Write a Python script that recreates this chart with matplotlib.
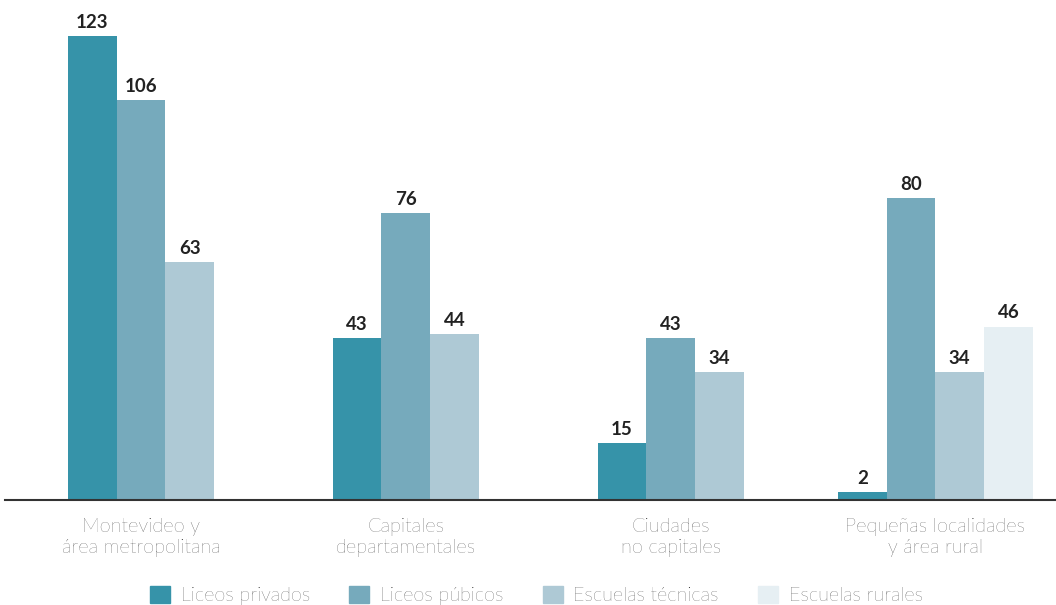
import numpy as np
import matplotlib.pyplot as plt
from matplotlib.patches import Patch

plt.rcParams['font.family'] = ['Lato', 'DejaVu Sans']

# datos
categorias = ['Montevideo y\nárea metropolitana', 'Capitales\ndepartamentales',
              'Ciudades\nno capitales', 'Pequeñas localidades\ny área rural']
series = ['Liceos privados', 'Liceos púbicos', 'Escuelas técnicas', 'Escuelas rurales']
privados = [123, 43, 15, 2]
publicos = [106, 76, 43, 80]
tecnicas = [63, 44, 34, 34]
rurales = [None, None, None, 46]

colores = ['#3693a9', '#76aabc', '#aec9d5', '#e6eff3']
texto = '#222222'

fig = plt.figure(figsize=(10.56, 6.05), dpi=100)
ax = fig.add_axes([0.0, 1 - 500 / 605, 1.0, 500 / 605])

w = 0.184
valores = [privados, publicos, tecnicas, rurales]
for g in range(len(categorias)):
    vals = [v[g] for v in valores]
    idx = [i for i, v in enumerate(vals) if v is not None]
    n = len(idx)
    for k, i in enumerate(idx):
        x = g + (k - (n - 1) / 2) * w
        ax.bar(x, vals[i], width=w, color=colores[i], linewidth=0)
        ax.text(x, vals[i] + 1.4, str(vals[i]), ha='center', va='bottom',
                fontsize=13.5, fontweight='bold', color=texto)

ax.set_xlim(-0.5325, 3.4555)
ax.set_ylim(0, 132.6)
for s in ['top', 'right', 'left']:
    ax.spines[s].set_visible(False)
ax.spines['bottom'].set_color('#333333')
ax.spines['bottom'].set_linewidth(1.5)
ax.spines['bottom'].set_bounds(-0.5136, 3.4555)
ax.set_yticks([])
ax.set_xticks(range(len(categorias)))
ax.set_xticklabels(categorias, fontsize=14.3, fontweight='light', color='#111111',
                   linespacing=1.2)
ax.tick_params(axis='x', length=0, pad=13)

handles = [Patch(color=c, label=s) for c, s in zip(colores, series)]
fig.legend(handles=handles, loc='upper center', bbox_to_anchor=(0.508, 0.045),
           ncol=4, frameon=False, prop={'size': 14.2, 'weight': 'light'},
           handlelength=1.0, handleheight=1.0,
           columnspacing=2.0, handletextpad=0.55, labelcolor='#111111',
           borderaxespad=0)

fig.savefig('out.png', dpi=100)
